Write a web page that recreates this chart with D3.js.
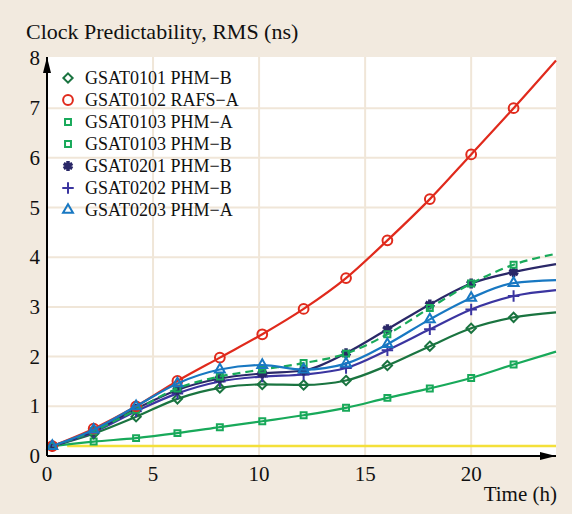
<!DOCTYPE html>
<html>
<head>
<meta charset="utf-8">
<script src="https://cdn.jsdelivr.net/npm/d3@7"></script>
<style>
  body { margin: 0; background: #f2eadf; }
  text { font-family: "Liberation Serif", "Times New Roman", serif; fill: #111; }
</style>
</head>
<body>
<div id="chart"></div>
<script>
// sample times (h) for the markers, plus the end of each line at 24 h
const times = [0.25, 2.2, 4.2, 6.15, 8.15, 10.15, 12.1, 14.1, 16.05, 18.05, 20.0, 22.0, 24];

const names = ["GSAT0101 PHM\u2212B", "GSAT0102 RAFS\u2212A", "GSAT0103 PHM\u2212A",
               "GSAT0103 PHM\u2212B", "GSAT0201 PHM\u2212B", "GSAT0202 PHM\u2212B", "GSAT0203 PHM\u2212A"];

const gsat0101B = [0.2, 0.45, 0.79, 1.15, 1.37, 1.44, 1.43, 1.52, 1.82, 2.21, 2.57, 2.79, 2.89];
const gsat0102A = [0.2, 0.55, 1.0, 1.51, 1.98, 2.45, 2.96, 3.58, 4.34, 5.17, 6.07, 7.0, 7.96];
const gsat0103A = [0.2, 0.29, 0.36, 0.46, 0.58, 0.70, 0.82, 0.97, 1.17, 1.36, 1.57, 1.84, 2.10];
const gsat0103B = [0.2, 0.5, 0.93, 1.36, 1.6, 1.74, 1.87, 2.06, 2.45, 2.98, 3.47, 3.85, 4.07];
const gsat0201B = [0.2, 0.5, 0.95, 1.33, 1.56, 1.66, 1.72, 2.07, 2.55, 3.05, 3.47, 3.70, 3.86];
const gsat0202B = [0.2, 0.48, 0.9, 1.26, 1.5, 1.6, 1.64, 1.77, 2.13, 2.55, 2.95, 3.22, 3.34];
const gsat0203A = [0.2, 0.53, 1.0, 1.46, 1.74, 1.83, 1.74, 1.86, 2.25, 2.75, 3.18, 3.48, 3.54];

// flat reference line (not in legend)
const refTimes = [0.95, 24];
const refValues = [0.2, 0.2];

const xTicks = [0, 5, 10, 15, 20];
const yTicks = [0, 1, 2, 3, 4, 5, 6, 7, 8];

const height = 514,
      width = 572,
      margin = ({ top: 57, right: 16, bottom: 58, left: 47 });

const svg = d3.select("#chart")
    .append("svg")
    .attr("width", width)
    .attr("height", height);

svg.append("rect").attr("width", width).attr("height", height).attr("fill", "#f2eadf");

const x = d3.scaleLinear().domain([0, 24]).range([margin.left, width - margin.right]);
const y = d3.scaleLinear().domain([0, 8.03]).range([height - margin.bottom, margin.top]);

// white plot area
svg.append("rect")
    .attr("x", x(0)).attr("y", margin.top)
    .attr("width", x(24) - x(0)).attr("height", y(0) - margin.top)
    .attr("fill", "white");

// grid
svg.append("g").selectAll("line")
    .data(yTicks.filter(d => d > 0 && d < 8))
    .join("line")
    .attr("x1", x(0)).attr("x2", x(24))
    .attr("y1", d => y(d)).attr("y2", d => y(d))
    .attr("stroke", "#f0e6d8").attr("stroke-width", 2);

svg.append("g").selectAll("line")
    .data(xTicks.filter(d => d > 0))
    .join("line")
    .attr("x1", d => x(d)).attr("x2", d => x(d))
    .attr("y1", y(0)).attr("y2", margin.top)
    .attr("stroke", "#f0e6d8").attr("stroke-width", 2);

// tick labels
svg.append("g").selectAll("text")
    .data(yTicks)
    .join("text")
    .attr("x", x(0) - 7).attr("y", d => y(d) + 7)
    .attr("text-anchor", "end")
    .style("font-size", "21px")
    .text(d => d);

svg.append("g").selectAll("text")
    .data(xTicks)
    .join("text")
    .attr("x", d => x(d)).attr("y", y(0) + 25)
    .attr("text-anchor", "middle")
    .style("font-size", "21px")
    .text(d => d);

svg.append("text")
    .attr("x", 26).attr("y", 39)
    .style("font-size", "22px")
    .text("Clock Predictability, RMS (ns)");

svg.append("text")
    .attr("x", width - 15).attr("y", y(0) + 45)
    .attr("text-anchor", "end")
    .style("font-size", "21px")
    .text("Time (h)");

// series
const series = [
    { name: names[2], values: gsat0103A, color: "#18a95a", symbol: d3.symbolSquare2, size: 45, dash: null },
    { name: names[0], values: gsat0101B, color: "#1a7440", symbol: d3.symbolDiamond2, size: 55, dash: null },
    { name: names[5], values: gsat0202B, color: "#3b35a0", symbol: d3.symbolPlus, size: 45, dash: null },
    { name: names[4], values: gsat0201B, color: "#2a2868", symbol: d3.symbolAsterisk, size: 70, dash: null },
    { name: names[3], values: gsat0103B, color: "#18a95a", symbol: d3.symbolSquare2, size: 45, dash: "8,5" },
    { name: names[1], values: gsat0102A, color: "#e02a1c", symbol: d3.symbolCircle, size: 75, dash: null },
    { name: names[6], values: gsat0203A, color: "#1878c2", symbol: d3.symbolTriangle2, size: 70, dash: null }
];

const line = d3.line()
    .x(d => x(d[0]))
    .y(d => y(d[1]))
    .curve(d3.curveMonotoneX);

// yellow reference line
svg.append("path")
    .attr("d", line(refTimes.map((t, i) => [t, refValues[i]])))
    .attr("fill", "none")
    .attr("stroke", "#f4e03a")
    .attr("stroke-width", 2.5);

for (let s of series) {
    const pts = times.map((t, i) => [t, s.values[i]]);
    svg.append("path")
        .attr("d", line(pts))
        .attr("fill", "none")
        .attr("stroke", s.color)
        .attr("stroke-width", 2.2)
        .attr("stroke-dasharray", s.dash);

    svg.append("g").selectAll("path")
        .data(pts.slice(0, -1))
        .join("path")
        .attr("transform", d => `translate(${x(d[0])},${y(d[1])})`)
        .attr("d", d3.symbol().type(s.symbol).size(s.size))
        .attr("fill", "none")
        .attr("stroke", s.color)
        .attr("stroke-width", s.symbol === d3.symbolAsterisk ? 3.5 : 2);
}

// axes with arrows
svg.append("defs").append("marker")
    .attr("id", "arrow")
    .attr("viewBox", "0 0 16 8")
    .attr("refX", 16).attr("refY", 4)
    .attr("markerWidth", 16).attr("markerHeight", 8)
    .attr("markerUnits", "userSpaceOnUse")
    .attr("orient", "auto")
    .append("path")
    .attr("d", "M0,0 L16,4 L0,8 Z")
    .attr("fill", "#000");

svg.append("line")
    .attr("x1", x(0)).attr("x2", x(24))
    .attr("y1", y(0)).attr("y2", y(0))
    .attr("stroke", "#000").attr("stroke-width", 2)
    .attr("marker-end", "url(#arrow)");

svg.append("line")
    .attr("x1", x(0)).attr("x2", x(0))
    .attr("y1", y(0)).attr("y2", margin.top)
    .attr("stroke", "#000").attr("stroke-width", 2)
    .attr("marker-end", "url(#arrow)");

// legend
const legendOrder = [1, 5, 0, 4, 3, 2, 6]; // index into series, in legend order
const legend = svg.append("g").selectAll("g")
    .data(legendOrder.map(i => series[i]))
    .join("g")
    .attr("transform", (d, i) => `translate(68,${78 + i * 22})`);

legend.append("path")
    .attr("d", d => d3.symbol().type(d.symbol).size(d.size)())
    .attr("fill", "none")
    .attr("stroke", d => d.color)
    .attr("stroke-width", d => d.symbol === d3.symbolAsterisk ? 3.5 : 2);

legend.append("text")
    .attr("x", 17).attr("y", 6)
    .style("font-size", "18px")
    .text(d => d.name);
</script>
</body>
</html>
